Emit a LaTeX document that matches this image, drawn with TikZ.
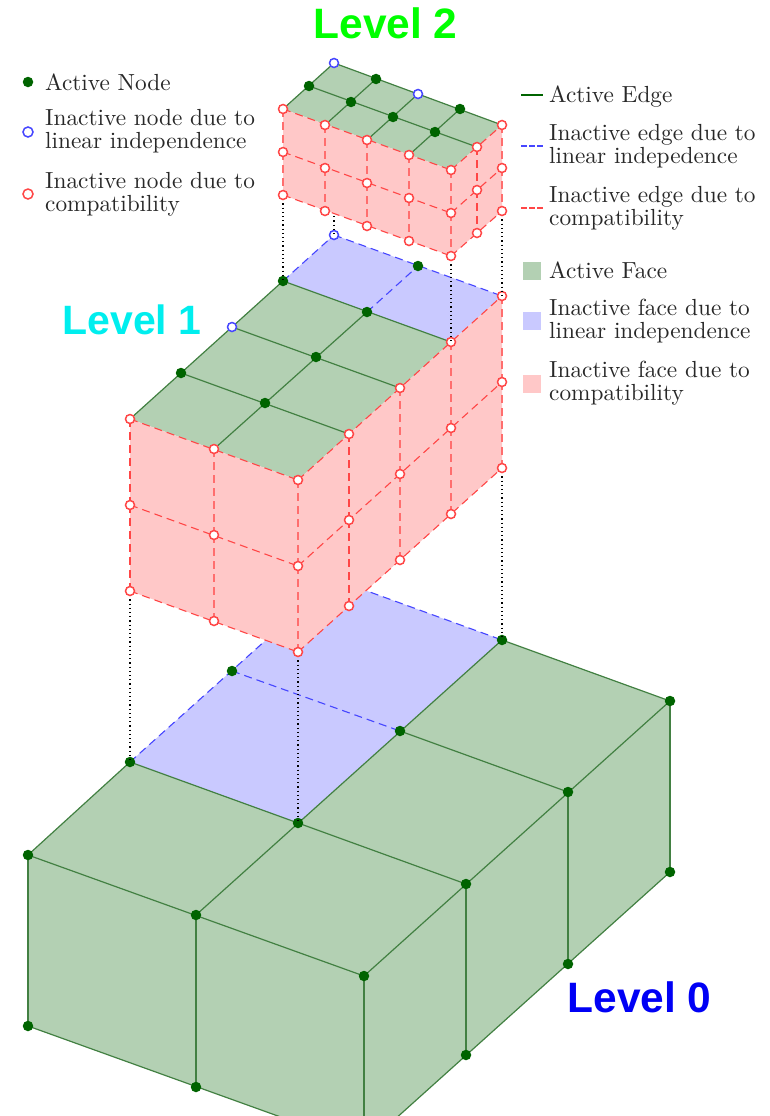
\documentclass[tikz,border=0pt]{standalone}
\usepackage{fontspec}
\newfontfamily\titlefont{Liberation Sans}
\newfontfamily\legfont{lmroman10-regular.otf}
\definecolor{gfill}{RGB}{179,208,179}
\definecolor{bfill}{RGB}{201,201,255}
\definecolor{rfill}{RGB}{255,200,200}
\definecolor{gedge}{RGB}{66,128,66}
\definecolor{bedge}{RGB}{70,70,255}
\definecolor{redge}{RGB}{255,70,70}
\definecolor{redgel}{RGB}{255,110,110}
\definecolor{gnode}{RGB}{0,100,0}
\definecolor{legtext}{RGB}{40,40,40}
\tikzset{
  actedge/.style={draw=gedge,line width=1.2pt},
  bluedge/.style={draw=bedge,line width=1.1pt,dash pattern=on 8pt off 5pt},
  rededge/.style={draw=redge,line width=1.1pt,dash pattern=on 8pt off 5pt},
  rededgel/.style={draw=redgel,line width=1.1pt,dash pattern=on 8pt off 5pt},
  gface/.style={fill=gfill},
  bface/.style={fill=bfill},
  rface/.style={fill=rfill},
  drop/.style={draw=black,line width=1.1pt,dash pattern=on 1.2pt off 3pt},
  actnode/.style={circle,fill=gnode,draw=none,minimum size=10.5pt,inner sep=0pt},
  blunode/.style={circle,fill=white,draw=bedge,line width=1.5pt,minimum size=9pt,inner sep=0pt},
  rednode/.style={circle,fill=white,draw=redge,line width=1.5pt,minimum size=9pt,inner sep=0pt},
  legend/.style={anchor=west,align=left,inner sep=0pt,text=legtext,font=\legfont\fontsize{23.3}{23}\selectfont},
  swatch/.style={minimum width=18pt,minimum height=18pt,inner sep=0pt,draw=none},
  title/.style={font=\titlefont\bfseries\fontsize{42.5}{44}\selectfont,inner sep=0pt}
}
\begin{document}
\begin{tikzpicture}[x=1pt,y=-1pt]
\clip (0,0) rectangle (769,1116);
% ---------- level 0 points
\coordinate (t00) at (28,855); \coordinate (t01) at (130,762); \coordinate (t02) at (232,671); \coordinate (t03) at (334,579);
\coordinate (t10) at (196,915); \coordinate (t11) at (298,823); \coordinate (t12) at (400,731); \coordinate (t13) at (502,640);
\coordinate (t20) at (364,976); \coordinate (t21) at (466,884); \coordinate (t22) at (568,792); \coordinate (t23) at (670,701);
\coordinate (b00) at (28,1026); \coordinate (b10) at (196,1087); \coordinate (b20) at (364,1147);
\coordinate (b21) at (466,1055); \coordinate (b22) at (568,964); \coordinate (b23) at (670,872);
% ---------- level 1 points
\coordinate (q00) at (130,419); \coordinate (q01) at (181,373); \coordinate (q02) at (232,327); \coordinate (q03) at (283,281); \coordinate (q04) at (334,235);
\coordinate (q10) at (214,449); \coordinate (q11) at (265,403); \coordinate (q12) at (316,357); \coordinate (q13) at (367,312); \coordinate (q14) at (418,266);
\coordinate (q20) at (298,480); \coordinate (q21) at (349,434); \coordinate (q22) at (400,388); \coordinate (q23) at (451,342); \coordinate (q24) at (502,296);
\coordinate (qm00) at (130,505); \coordinate (qm10) at (214,535); \coordinate (qm20) at (298,566); \coordinate (qm21) at (349,520); \coordinate (qm22) at (400,474); \coordinate (qm23) at (451,428); \coordinate (qm24) at (502,382);
\coordinate (qb00) at (130,591); \coordinate (qb10) at (214,621); \coordinate (qb20) at (298,652); \coordinate (qb21) at (349,606); \coordinate (qb22) at (400,560); \coordinate (qb23) at (451,514); \coordinate (qb24) at (502,468);
% ---------- level 2 points
\coordinate (r00) at (283,109); \coordinate (r10) at (325,125); \coordinate (r20) at (367,140); \coordinate (r30) at (409,155); \coordinate (r40) at (451,170);
\coordinate (r01) at (309,86); \coordinate (r11) at (351,102); \coordinate (r21) at (393,117); \coordinate (r31) at (435,132); \coordinate (r41) at (477,147);
\coordinate (r02) at (334,63); \coordinate (r12) at (376,79); \coordinate (r22) at (418,94); \coordinate (r32) at (460,109); \coordinate (r42) at (502,125);
\coordinate (rm00) at (283,152); \coordinate (rm10) at (325,168); \coordinate (rm20) at (367,183); \coordinate (rm30) at (409,198); \coordinate (rm40) at (451,213); \coordinate (rm41) at (477,190); \coordinate (rm42) at (502,168);
\coordinate (rb00) at (283,195); \coordinate (rb10) at (325,211); \coordinate (rb20) at (367,226); \coordinate (rb30) at (409,241); \coordinate (rb40) at (451,256); \coordinate (rb41) at (477,233); \coordinate (rb42) at (502,211);
\coordinate (rh02) at (334,149);
% ========== LEVEL 0
\path[bface] (t01)--(t03)--(t13)--(t11)--cycle;
\path[gface] (t00)--(t01)--(t11)--(t13)--(t23)--(t20)--cycle;
\path[gface] (t00)--(t20)--(b20)--(b00)--cycle;
\path[gface] (t20)--(t23)--(b23)--(b20)--cycle;
\draw[bluedge] (t01)--(t03);
\draw[bluedge] (t03)--(t13);
\draw[bluedge] (t02)--(t12);
\draw[actedge] (t00)--(t20);
\draw[actedge] (t01)--(t21);
\draw[actedge] (t12)--(t22);
\draw[actedge] (t13)--(t23);
\draw[actedge] (t00)--(t01);
\draw[actedge] (t10)--(t13);
\draw[actedge] (t20)--(t23);
\draw[actedge] (b00)--(b20);
\draw[actedge] (b20)--(b23);
\draw[actedge] (t00)--(b00);
\draw[actedge] (t10)--(b10);
\draw[actedge] (t20)--(b20);
\draw[actedge] (t21)--(b21);
\draw[actedge] (t22)--(b22);
\draw[actedge] (t23)--(b23);
\foreach \p in {t00,t01,t02,t10,t11,t12,t13,t20,t21,t22,t23,b00,b10,b21,b22,b23}
  \node[actnode] (n\p) at (\p) {};
\draw[drop] (qb00)--(t01);
\draw[drop] (qb20)--(t11);
\draw[drop] (qb24)--(t13);
% ========== LEVEL 1
\path[bface] (q03)--(q04)--(q24)--(q23)--cycle;
\path[gface] (q00)--(q03)--(q23)--(q20)--cycle;
\path[rface] (q00)--(q20)--(qb20)--(qb00)--cycle;
\path[rface] (q20)--(q24)--(qb24)--(qb20)--cycle;
\draw[actedge] (q00)--(q03);
\draw[actedge] (q10)--(q13);
\draw[actedge] (q01)--(q21);
\draw[actedge] (q02)--(q22);
\draw[actedge] (q03)--(q23);
\draw[bluedge] (q03)--(q04);
\draw[bluedge] (q04)--(q24);
\draw[bluedge] (q13)--(q14);
\draw[rededge] (q00)--(q20);
\draw[rededge] (q20)--(q24);
\draw[rededge] (qm00)--(qm20);
\draw[rededge] (qm20)--(qm24);
\draw[rededge] (qb00)--(qb20);
\draw[rededge] (qb20)--(qb24);
\foreach \c in {00,21}{
  \draw[rededge] (q\c)--(qm\c);
  \draw[rededge] (qm\c)--(qb\c);
}
\foreach \c in {10,20,22,23,24}{
  \draw[rededgel] (q\c)--(qm\c);
  \draw[rededgel] (qm\c)--(qb\c);
}
\foreach \p in {q01,q03,q11,q12,q13,q14}
  \node[actnode] (n\p) at (\p) {};
\foreach \p in {q02,q04}
  \node[blunode] (n\p) at (\p) {};
\foreach \p in {q00,q10,q20,q21,q22,q23,q24,qm00,qm10,qm20,qm21,qm22,qm23,qm24,qb00,qb10,qb20,qb21,qb22,qb23,qb24}
  \node[rednode] (n\p) at (\p) {};
\draw[drop] (rb00)--(q03);
\draw[drop] (rh02)--(q04);
\draw[drop] (rb40)--(q23);
\draw[drop] (rb42)--(q24);
% ========== LEVEL 2
\path[gface] (r00)--(r02)--(r42)--(r40)--cycle;
\path[rface] (r00)--(r40)--(rb40)--(rb00)--cycle;
\path[rface] (r40)--(r42)--(rb42)--(rb40)--cycle;
\draw[actedge] (r00)--(r02);
\draw[actedge] (r10)--(r12);
\draw[actedge] (r20)--(r22);
\draw[actedge] (r30)--(r32);
\draw[actedge] (r02)--(r42);
\draw[actedge] (r01)--(r41);
\draw[rededge] (r00)--(r40);
\draw[rededge] (r40)--(r42);
\draw[rededge] (rm00)--(rm40);
\draw[rededge] (rm40)--(rm42);
\draw[rededge] (rb00)--(rb40);
\draw[rededge] (rb40)--(rb42);
\foreach \c in {41}{
  \draw[rededge] (r\c)--(rm\c);
  \draw[rededge] (rm\c)--(rb\c);
}
\foreach \c in {00,10,20,30,40,42}{
  \draw[rededgel] (r\c)--(rm\c);
  \draw[rededgel] (rm\c)--(rb\c);
}
\foreach \p in {r01,r11,r21,r31,r12,r32}
  \node[actnode] (n\p) at (\p) {};
\foreach \p in {r02,r22}
  \node[blunode] (n\p) at (\p) {};
\foreach \p in {r00,r10,r20,r30,r40,r41,r42,rm00,rm10,rm20,rm30,rm40,rm41,rm42,rb00,rb10,rb20,rb30,rb40,rb41,rb42}
  \node[rednode] (n\p) at (\p) {};
% ========== TITLES
\node[title,text={rgb,255:red,0;green,255;blue,0}] (lev2) at (385.5,23.5) {Level 2};
\node[title,text={rgb,255:red,0;green,238;blue,238},font=\titlefont\bfseries\fontsize{41}{44}\selectfont] (lev1) at (132,320) {Level 1};
\node[title,text={rgb,255:red,0;green,0;blue,245}] (lev0) at (639.5,997) {Level 0};
% ========== LEGEND LEFT
\node[actnode] (la) at (28,82) {};
\node[blunode,minimum size=10pt] (lb) at (28,132) {};
\node[rednode,minimum size=10pt] (lc) at (28,194) {};
\node[legend] (lat) at (45,82) {Active Node};
\node[legend] (lbt) at (45,131) {Inactive node due to\\linear independence};
\node[legend] (lct) at (45,194.5) {Inactive node due to\\compatibility};
% ========== LEGEND RIGHT
\coordinate (e1a) at (521,95); \coordinate (e1b) at (543,95);
\coordinate (e2a) at (521,146); \coordinate (e2b) at (543,146);
\coordinate (e3a) at (521,208); \coordinate (e3b) at (543,208);
\draw[draw=gnode,line width=1.1pt] (e1a)--(e1b);
\draw[draw=bedge,line width=1.1pt,dash pattern=on 6pt off 2pt] (e2a)--(e2b);
\draw[draw=redge,line width=1.1pt,dash pattern=on 6pt off 2pt] (e3a)--(e3b);
\node[legend] (ret1) at (549,96.5) {Active Edge};
\node[legend] (ret2) at (549,146) {Inactive edge due to\\linear indepedence};
\node[legend] (ret3) at (549,208.5) {Inactive edge due to\\compatibility};
\node[swatch,fill=gfill] (sw1) at (531.5,271) {};
\node[swatch,fill=bfill] (sw2) at (531.5,321) {};
\node[swatch,fill=rfill] (sw3) at (531.5,383.5) {};
\node[legend] (rft1) at (549,270.5) {Active Face};
\node[legend] (rft2) at (549,321) {Inactive face due to\\linear independence};
\node[legend] (rft3) at (549,383.5) {Inactive face due to\\compatibility};
\end{tikzpicture}
\end{document}
